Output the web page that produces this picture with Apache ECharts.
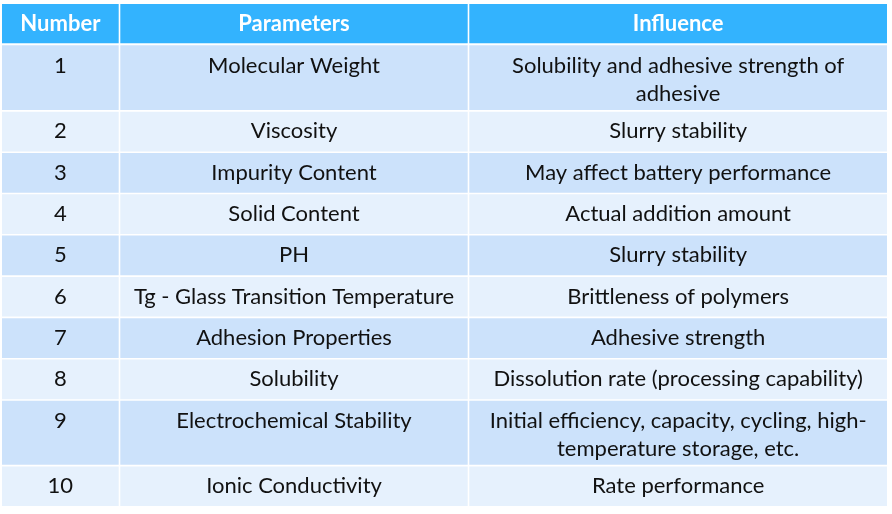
<!DOCTYPE html>
<html>
<head>
<meta charset="utf-8">
<script src="https://cdn.jsdelivr.net/npm/echarts@6/dist/echarts.min.js"></script>
<style>
html,body{margin:0;padding:0;background:#ffffff;}
#chart{width:892px;height:514px;}
</style>
</head>
<body>
<div id="chart"></div>
<script>
// ---- data ----
var headers = ['Number', 'Parameters', 'Influence'];
var numbers = ['1', '2', '3', '4', '5', '6', '7', '8', '9', '10'];
var parameters = [
  'Molecular Weight',
  'Viscosity',
  'Impurity Content',
  'Solid Content',
  'PH',
  'Tg - Glass Transition Temperature',
  'Adhesion Properties',
  'Solubility',
  'Electrochemical Stability',
  'Ionic Conductivity'
];
var influences = [
  'Solubility and adhesive strength of\nadhesive',
  'Slurry stability',
  'May affect battery performance',
  'Actual addition amount',
  'Slurry stability',
  'Brittleness of polymers',
  'Adhesive strength',
  'Dissolution rate (processing capability)',
  'Initial efficiency, capacity, cycling, high-\ntemperature storage, etc.',
  'Rate performance'
];

// ---- layout / style ----
var colEdges = [2, 119.5, 468.5, 887];
var headerTop = 4, headerBottom = 43.2, bodyTop = 45.3;
var singleH = 41.3, extraLineH = 24.3;
var gap = 1.6;
var headerColor = '#33B3FE';
var rowColors = ['#CCE2FB', '#E6F1FD'];
var fontFamily = 'Lato, "Open Sans", sans-serif';
var fontSize = 22;
var lineH = 28;

var chart = echarts.init(document.getElementById('chart'), null, {renderer: 'canvas'});
var elements = [];

function cellRect(x0, x1, y0, y1, color) {
  elements.push({
    type: 'rect',
    shape: {x: x0 + gap / 2, y: y0, width: x1 - x0 - gap, height: y1 - y0},
    style: {fill: color}
  });
}
function cellText(x0, x1, yTop, txt, bold, color) {
  elements.push({
    type: 'text',
    x: (x0 + x1) / 2,
    y: yTop,
    style: {
      text: txt,
      fill: color,
      font: (bold ? 'bold ' : '') + fontSize + 'px ' + fontFamily,
      lineHeight: lineH,
      textAlign: 'center',
      textVerticalAlign: 'top'
    }
  });
}

// header
for (var c = 0; c < 3; c++) {
  var hx0 = c === 0 ? colEdges[0] - gap / 2 : colEdges[c];
  var hx1 = c === 2 ? colEdges[3] + gap / 2 : colEdges[c + 1];
  cellRect(hx0, hx1, headerTop, headerBottom, headerColor);
  cellText(hx0, hx1, headerTop + (headerBottom - headerTop) / 2 - lineH / 2, headers[c], true, '#ffffff');
}

// body
var y = bodyTop;
for (var r = 0; r < numbers.length; r++) {
  var cols = [numbers[r], parameters[r], influences[r]];
  var lines = 1;
  cols.forEach(function (t) { lines = Math.max(lines, t.split('\n').length); });
  var h = singleH + (lines - 1) * extraLineH;
  var y0 = y + (r === 0 ? 0 : gap / 2);
  var y1 = y + h - gap / 2;
  for (var c2 = 0; c2 < 3; c2++) {
    var x0 = c2 === 0 ? colEdges[0] - gap / 2 : colEdges[c2];
    var x1 = c2 === 2 ? colEdges[3] + gap / 2 : colEdges[c2 + 1];
    cellRect(x0, x1, y0, y1, rowColors[r % 2]);
    cellText(x0, x1, y + 20.5 - lineH / 2, cols[c2], false, '#111111');
  }
  y += h;
}

chart.setOption({
  backgroundColor: '#ffffff',
  animation: false,
  graphic: {elements: elements}
});
</script>
</body>
</html>
